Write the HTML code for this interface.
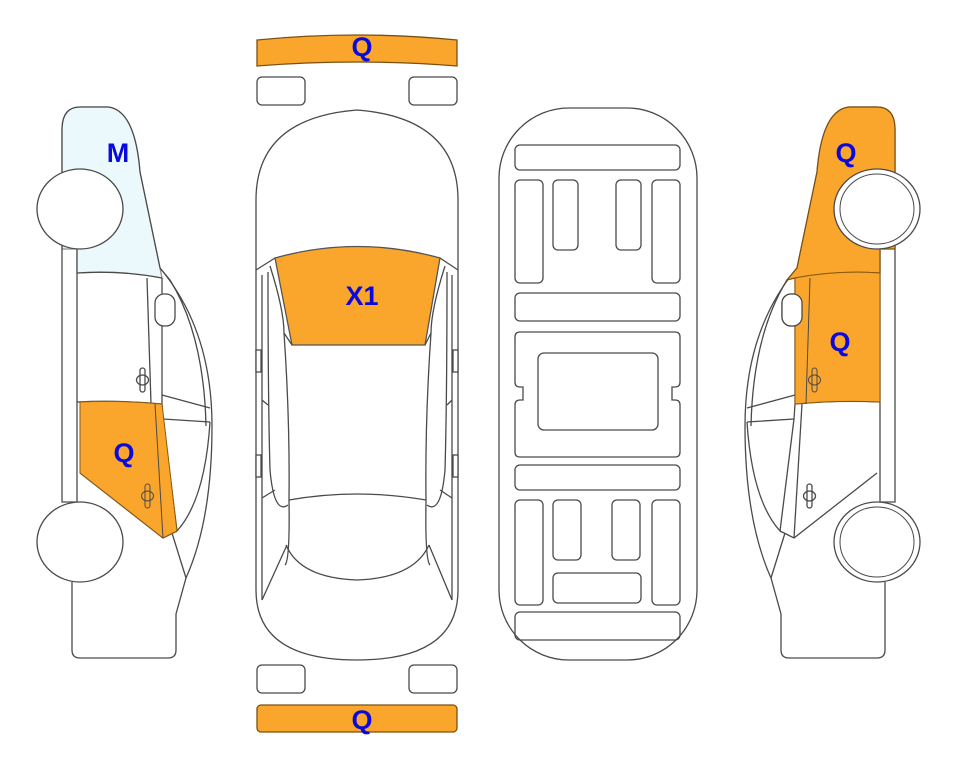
<!DOCTYPE html>
<html><head><meta charset="utf-8"><style>
html,body{margin:0;padding:0;background:#fff;width:963px;height:768px;overflow:hidden}
svg{display:block}
text{font-family:"Liberation Sans",sans-serif;font-weight:bold;fill:#0a0adc;font-size:27px;text-anchor:middle}
</style></head><body>
<svg width="963" height="768" viewBox="0 0 963 768" xmlns="http://www.w3.org/2000/svg">
<defs>
<g id="side" fill="none" stroke="#4a4a4a" stroke-width="1.3">
  <path d="M62,130 Q62,107 80,107 L108,107 Q135,110 140,172 Q152,230 160,268 Q212,330 212,426 Q212,520 186,578 L176,614 L176,650 Q176,658 168,658 L80,658 Q72,658 72,650 L72,582" fill="#fff"/>
  <path d="M62,130 L62,502 L77,502 L77,249" />
  <path d="M77,273 Q120,270 162,278" />
  <path d="M160,268 L170,280 Q204,335 206,426" />
  <path d="M147,278 L151,404" />
  <path d="M162,278 L162,404 L163,419" />
  <path d="M155,404 L163,538" />
  <path d="M162,395 L210,408 M163,419 L210,422" />
  <path d="M163,419 L177,531 Q205,500 210,422" />
  <path d="M80,473 L163,538 L177,531" />
  <path d="M172,533 L186,578" />
  <path d="M77,402 Q120,400 162,404" />
  <rect x="155" y="294" width="20" height="32" rx="9" fill="#fff"/>
  <rect x="140" y="368" width="5" height="24" rx="2.5"/><ellipse cx="142.5" cy="380" rx="6" ry="5"/>
  <rect x="145" y="484" width="5" height="24" rx="2.5"/><ellipse cx="147.5" cy="496" rx="6" ry="5"/>
</g>
</defs>

<!-- LEFT CAR -->
<path d="M62,130 Q62,107 80,107 L108,107 Q135,110 140,172 Q152,230 160,268 L162,278 Q120,270 77,273 L77,249 L62,249 Z" fill="#dff4fb"/>
<path d="M80,402 Q120,400 162,404 L177,531 L163,538 L80,473 Z" fill="#faa62c"/>
<use href="#side"/>
<path d="M62,130 Q62,107 80,107 L108,107 Q135,110 140,172 Q152,230 160,268 L162,278 Q120,270 77,273 L77,249 L62,249 Z" fill="#dff4fb" stroke="#4a4a4a" stroke-width="1.3" opacity="0.6"/>
<path d="M80,402 Q120,400 162,404 L177,531 L163,538 L80,473 Z" fill="#faa62c" stroke="#8a5a10" stroke-width="1"/>
<rect x="145" y="484" width="5" height="24" rx="2.5" fill="none" stroke="#4a4a4a"/><ellipse cx="147.5" cy="496" rx="6" ry="5" fill="none" stroke="#4a4a4a"/>
<line x1="155" y1="404" x2="163" y2="538" stroke="#4a4a4a" stroke-width="1"/>
<ellipse cx="80" cy="209" rx="43" ry="40" fill="#fff" stroke="#4a4a4a" stroke-width="1.3"/>
<ellipse cx="80" cy="542" rx="43" ry="40" fill="#fff" stroke="#4a4a4a" stroke-width="1.3"/>
<text x="118" y="162">M</text>
<text x="124" y="462">Q</text>

<!-- RIGHT CAR (mirror) -->
<g transform="translate(957,0) scale(-1,1)">
  <use href="#side"/>
  <path d="M62,130 Q62,107 80,107 L108,107 Q135,110 140,172 Q152,230 160,268 L170,280 L162,278 Q120,270 77,273 L77,249 L62,249 Z" fill="#faa62c" stroke="#7a5010" stroke-width="1.2"/>
  <path d="M77,273 Q120,270 162,278 L162,404 Q120,400 77,402 Z" fill="#faa62c" stroke="#8a5a10" stroke-width="1"/>
  <line x1="147" y1="278" x2="151" y2="404" stroke="#4a4a4a" stroke-width="1"/>
  <rect x="155" y="294" width="20" height="32" rx="9" fill="#fff" stroke="#4a4a4a" stroke-width="1.3"/>
  <rect x="140" y="368" width="5" height="24" rx="2.5" fill="none" stroke="#4a4a4a"/><ellipse cx="142.5" cy="380" rx="6" ry="5" fill="none" stroke="#4a4a4a"/>
  <ellipse cx="80" cy="209" rx="43" ry="40" fill="#fff" stroke="#4a4a4a" stroke-width="1.3"/>
  <ellipse cx="80" cy="209" rx="37" ry="35" fill="none" stroke="#4a4a4a" stroke-width="1"/>
  <ellipse cx="80" cy="542" rx="43" ry="40" fill="#fff" stroke="#4a4a4a" stroke-width="1.3"/>
  <ellipse cx="80" cy="542" rx="37" ry="35" fill="none" stroke="#4a4a4a" stroke-width="1"/>
</g>
<text x="846" y="162">Q</text>
<text x="840" y="351">Q</text>

<!-- TOP VIEW CAR -->
<g fill="none" stroke="#4a4a4a" stroke-width="1.3">
  <path d="M257,40 Q357,30 457,40 L457,66 Q357,58 257,66 Z" fill="#faa62c" stroke="#7a5010"/>
  <rect x="257" y="77" width="48" height="28" rx="5"/>
  <rect x="409" y="77" width="48" height="28" rx="5"/>
  <path d="M256,200 Q256,118 357,110 Q458,118 458,200 L458,590 Q458,660 357,660 Q256,660 256,590 Z"/>
  <path d="M256,270 L275,258 M458,270 L440,258"/>
  <path d="M275,258 Q357,235 440,258 L425,345 L292,345 Z" fill="#faa62c" stroke="#555"/>
  <path d="M262,275 L262,600 M452,275 L452,600"/>
  <path d="M270,266 Q284,310 284,333 L292,345 M445,266 Q431,310 431,333 L425,345"/>
  <path d="M284,333 Q290,420 289,500 Q290,560 285,565 M431,333 Q425,420 426,500 Q425,560 430,565"/>
  <path d="M268,272 Q268,400 270,470 Q274,515 288,505 M447,272 Q447,400 445,470 Q441,515 427,505"/>
  <path d="M289,500 Q357,488 426,500"/>
  <path d="M286,545 Q300,578 357,580 Q414,578 429,545"/>
  <path d="M262,600 L287,545 M452,600 L429,545"/>
  <path d="M262,400 L268,405 M262,498 L275,490 M452,400 L447,405 M452,498 L440,490"/>
  <rect x="256" y="350" width="5" height="22" fill="#fff"/><rect x="256" y="455" width="5" height="22" fill="#fff"/>
  <rect x="453" y="350" width="5" height="22" fill="#fff"/><rect x="453" y="455" width="5" height="22" fill="#fff"/>
  <rect x="257" y="665" width="48" height="28" rx="5"/>
  <rect x="409" y="665" width="48" height="28" rx="5"/>
  <rect x="257" y="705" width="200" height="27" rx="4" fill="#faa62c" stroke="#7a5010"/>
</g>
<text x="362" y="56">Q</text>
<text x="362" y="305">X1</text>
<text x="362" y="729">Q</text>

<!-- UNDERBODY -->
<g fill="none" stroke="#4a4a4a" stroke-width="1.3">
  <rect x="499" y="108" width="198" height="552" rx="70"/>
  <rect x="515" y="145" width="165" height="25" rx="5"/>
  <rect x="515" y="180" width="28" height="103" rx="5"/>
  <rect x="553" y="180" width="25" height="70" rx="5"/>
  <rect x="616" y="180" width="25" height="70" rx="5"/>
  <rect x="652" y="180" width="28" height="103" rx="5"/>
  <rect x="515" y="293" width="165" height="28" rx="5"/>
  <path d="M520,332 L675,332 Q680,332 680,337 L680,382 Q680,387 675,387 L672,387 L672,400 L675,400 Q680,400 680,405 L680,452 Q680,457 675,457 L520,457 Q515,457 515,452 L515,405 Q515,400 520,400 L523,400 L523,387 L520,387 Q515,387 515,382 L515,337 Q515,332 520,332 Z"/>
  <rect x="538" y="353" width="120" height="77" rx="6"/>
  <rect x="515" y="465" width="165" height="25" rx="5"/>
  <rect x="515" y="500" width="28" height="105" rx="5"/>
  <rect x="553" y="500" width="28" height="60" rx="5"/>
  <rect x="612" y="500" width="28" height="60" rx="5"/>
  <rect x="652" y="500" width="28" height="105" rx="5"/>
  <rect x="553" y="573" width="88" height="30" rx="5"/>
  <rect x="515" y="612" width="165" height="28" rx="5"/>
</g>
</svg>
</body></html>
